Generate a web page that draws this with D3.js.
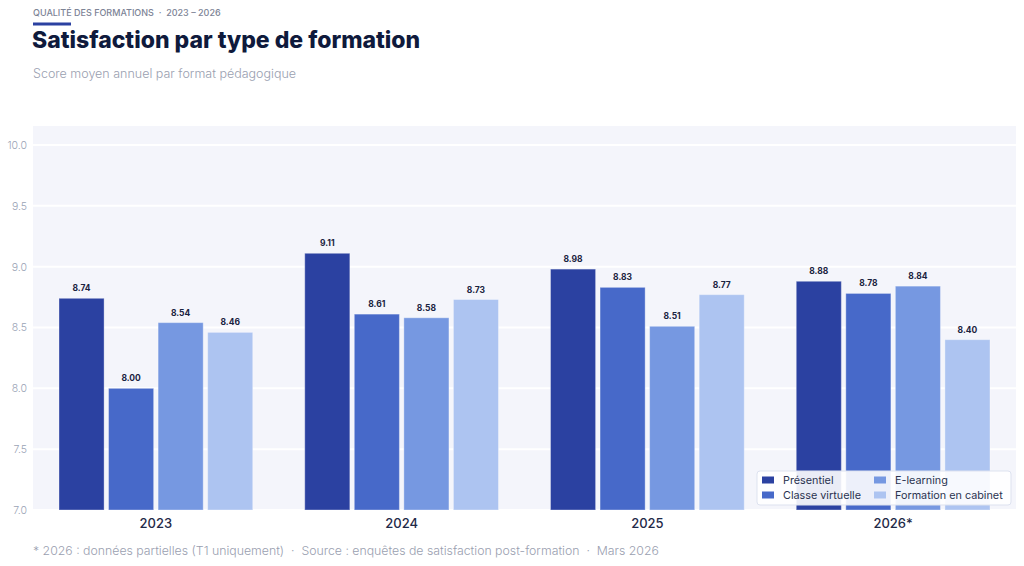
<!DOCTYPE html>
<html>
<head>
<meta charset="utf-8">
<script src="https://cdn.jsdelivr.net/npm/d3@7"></script>
<style>
  html, body { margin: 0; padding: 0; background: #fff; }
  svg { display: block; font-family: Inter, "Noto Sans", sans-serif; }
  svg text { white-space: pre; }
</style>
</head>
<body>
<div id="chart"></div>
<script>
const years = ["2023", "2024", "2025", "2026*"];
const formats = ["Présentiel", "Classe virtuelle", "E-learning", "Formation en cabinet"];
const presentiel = [8.74, 9.11, 8.98, 8.88];
const classeVirtuelle = [8.00, 8.61, 8.83, 8.78];
const eLearning = [8.54, 8.58, 8.51, 8.84];
const cabinet = [8.46, 8.73, 8.77, 8.40];
const yTicks = [7.0, 7.5, 8.0, 8.5, 9.0, 9.5, 10.0];
const colors = ["#2b41a1", "#4769c9", "#7698e1", "#adc4f1"];

const seriesValues = [presentiel, classeVirtuelle, eLearning, cabinet];

const width = 1024, height = 566;
const margin = { top: 126, right: 8, bottom: 56, left: 33 };

const svg = d3.select("#chart").append("svg")
  .attr("width", width)
  .attr("height", height);

// --- header ---
svg.append("text")
  .attr("x", 33).attr("y", 16)
  .attr("font-size", 9).attr("font-weight", 500)
  .attr("fill", "#7d8496")
  .text("QUALITÉ DES FORMATIONS  ·  2023 – 2026");

svg.append("rect")
  .attr("x", 33).attr("y", 22.5)
  .attr("width", 38).attr("height", 3)
  .attr("fill", "#2b41a1");

svg.append("text")
  .attr("x", 32).attr("y", 48)
  .attr("font-size", 23).attr("font-weight", 800)
  .attr("fill", "#0f1a3c")
  .text("Satisfaction par type de formation");

svg.append("text")
  .attr("x", 33).attr("y", 78)
  .attr("font-size", 12.5).attr("font-weight", 300)
  .attr("fill", "#9aa0b0")
  .text("Score moyen annuel par format pédagogique");

// --- scales ---
const x0 = d3.scaleBand()
  .domain(years)
  .range([margin.left, width - margin.right]);

const x1 = d3.scaleBand()
  .domain(formats)
  .range([26, x0.bandwidth() - 26])
  .paddingInner(0.09);

const y = d3.scaleLinear()
  .domain([7, 10])
  .range([510, 145]);

// plot background
svg.append("rect")
  .attr("x", margin.left).attr("y", margin.top)
  .attr("width", width - margin.right - margin.left)
  .attr("height", y(7) - margin.top)
  .attr("fill", "#f4f5fb");

// gridlines
svg.append("g")
  .selectAll("line")
  .data(yTicks)
  .join("line")
  .attr("x1", margin.left).attr("x2", width - margin.right)
  .attr("y1", d => y(d)).attr("y2", d => y(d))
  .attr("stroke", "#ffffff").attr("stroke-width", 2);

// y axis labels
const yAxis = d3.axisLeft(y).tickValues(yTicks).tickFormat(d3.format(".1f")).tickSize(0).tickPadding(0);
svg.append("g")
  .attr("transform", "translate(27,0)")
  .call(yAxis)
  .call(g => g.select(".domain").remove())
  .call(g => g.selectAll("text")
    .attr("font-family", "Inter, sans-serif")
    .attr("font-size", 10.5)
    .attr("font-weight", 300)
    .attr("fill", "#9aa3b5"));

// bars
const groups = svg.append("g")
  .selectAll("g")
  .data(years)
  .join("g")
  .attr("transform", d => `translate(${x0(d)},0)`);

groups.selectAll("rect")
  .data((yr, i) => formats.map((f, j) => ({ format: f, value: seriesValues[j][i], color: colors[j] })))
  .join("rect")
  .attr("x", d => x1(d.format))
  .attr("y", d => y(d.value))
  .attr("width", x1.bandwidth())
  .attr("height", d => y(7) - y(d.value))
  .attr("fill", d => d.color)
  .attr("stroke", "#ffffff")
  .attr("stroke-opacity", 0.35)
  .attr("stroke-width", 1);

groups.selectAll("text")
  .data((yr, i) => formats.map((f, j) => ({ format: f, value: seriesValues[j][i] })))
  .join("text")
  .attr("x", d => x1(d.format) + x1.bandwidth() / 2)
  .attr("y", d => y(d.value) - 7)
  .attr("text-anchor", "middle")
  .attr("font-size", 8.5).attr("font-weight", 700)
  .attr("fill", "#1a2340")
  .text(d => d.value.toFixed(2));

// x axis labels
const xAxis = d3.axisBottom(x0).tickSize(0).tickPadding(0);
svg.append("g")
  .attr("transform", `translate(0,${y(7) + 9})`)
  .call(xAxis)
  .call(g => g.select(".domain").remove())
  .call(g => g.selectAll("text")
    .attr("font-family", "Inter, sans-serif")
    .attr("font-size", 13)
    .attr("font-weight", 500)
    .attr("fill", "#1f2a48"));

// legend
const legend = svg.append("g").attr("transform", "translate(757,471)");
legend.append("rect")
  .attr("width", 254).attr("height", 34)
  .attr("rx", 3)
  .attr("fill", "#ffffff").attr("fill-opacity", 0.9)
  .attr("stroke", "#dde2ef");

const legendItems = legend.selectAll("g")
  .data(formats)
  .join("g")
  .attr("transform", (d, i) => `translate(${i < 2 ? 5 : 117},${i % 2 === 0 ? 8 : 23})`);

legendItems.append("rect")
  .attr("width", 12).attr("height", 7)
  .attr("y", -3.5 + 1)
  .attr("fill", (d, i) => colors[i]);

legendItems.append("text")
  .attr("x", 21).attr("y", 1)
  .attr("dy", "0.35em")
  .attr("font-size", 10.8)
  .attr("fill", "#2a3350")
  .text(d => d);

// footer
svg.append("text")
  .attr("x", 33).attr("y", 555)
  .attr("font-size", 12.3).attr("font-weight", 300)
  .attr("fill", "#9aa0b0")
  .text("* 2026 : données partielles (T1 uniquement)  ·  Source : enquêtes de satisfaction post-formation  ·  Mars 2026");
</script>
</body>
</html>
